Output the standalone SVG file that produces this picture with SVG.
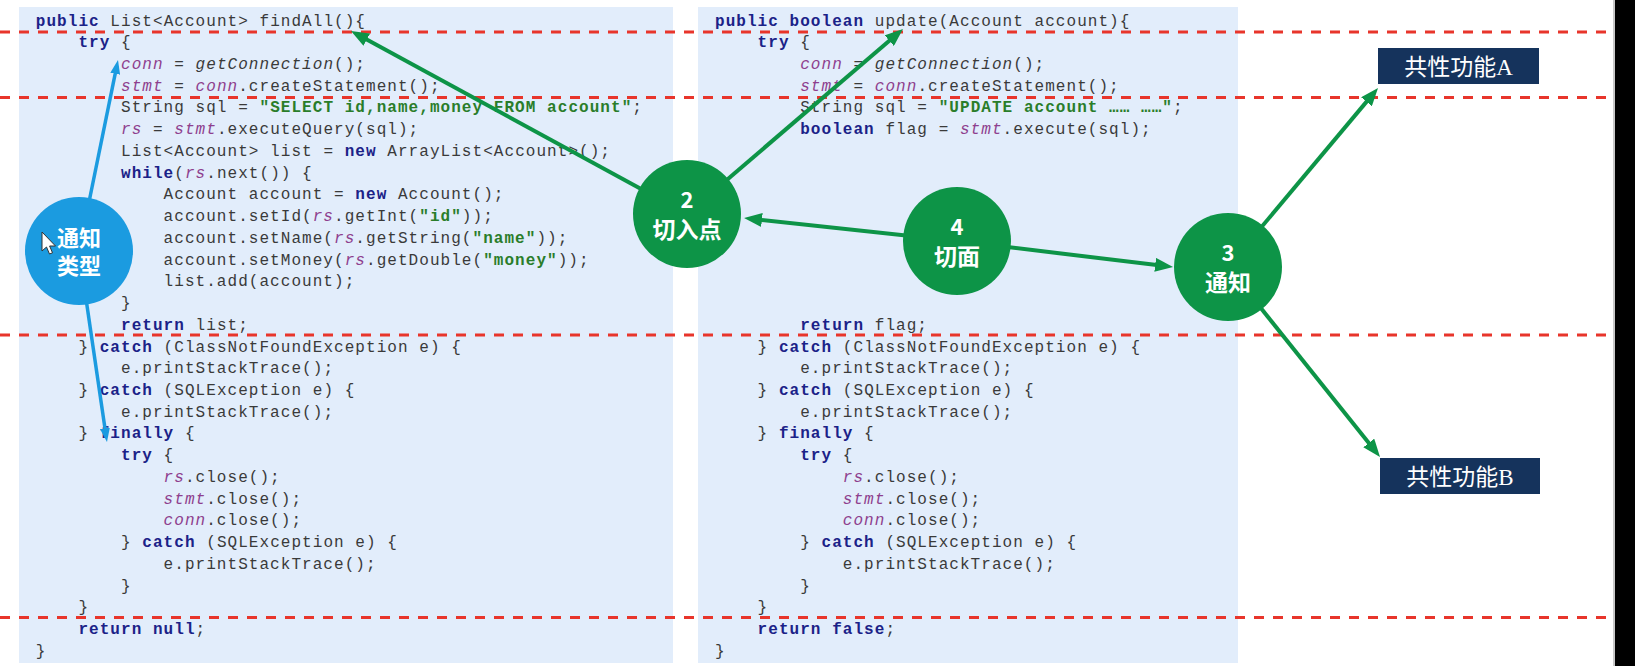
<svg xmlns="http://www.w3.org/2000/svg" width="1635" height="666" viewBox="0 0 1635 666">
<style>
.code{font-family:"Liberation Mono","DejaVu Sans Mono",monospace;font-size:16px;letter-spacing:1.05px;fill:#3a3a3a}
.k{font-weight:bold;fill:#1b2288}
.v{font-style:italic;fill:#8e3f8e}
.i{font-style:italic}
.s{font-weight:bold;fill:#2a7d2a}
.dash{stroke:#e8352b;stroke-width:3;stroke-dasharray:10 9;fill:none}
.g{stroke:#0d9447;stroke-width:4;fill:none}
.b{stroke:#1b9be0;stroke-width:3.5;fill:none}
.gc{fill:#0d9447}
.bc{fill:#1b9be0}
.lbl{font-family:"Noto Sans CJK SC","Noto Sans",sans-serif;font-weight:bold;fill:#fff;text-anchor:middle}
.box{fill:#15335c}
.bt{font-family:"Liberation Serif","Noto Sans CJK SC",sans-serif;font-size:23px;fill:#fff;text-anchor:middle}
</style>
<defs>
<marker id="ga" viewBox="0 0 18 14" markerWidth="18" markerHeight="14" refX="10" refY="7" orient="auto" markerUnits="userSpaceOnUse"><path d="M0,0 L18,7 L0,14 z" fill="#0d9447"/></marker>
<marker id="ba" viewBox="0 0 14 10" markerWidth="14" markerHeight="10" refX="8" refY="5" orient="auto" markerUnits="userSpaceOnUse"><path d="M0,0 L14,5 L0,10 z" fill="#1b9be0"/></marker>
</defs>
<rect width="1635" height="666" fill="#ffffff"/>
<g id="panels">
<rect x="19" y="7" width="654" height="656" fill="#e2edfb"/>
<rect x="698" y="7" width="540" height="656" fill="#e2edfb"/>
<rect x="1613" y="0" width="2" height="666" fill="#c8c8c8"/>
<rect x="1615" y="0" width="20" height="666" fill="#000000"/>
</g>
<g id="code-left" class="code">
<text x="35.8" y="25.5"><tspan class="k">public</tspan> List&lt;Account&gt; findAll(){</text>
<text x="78.4" y="47.2"><tspan class="k">try</tspan> {</text>
<text x="121" y="69"><tspan class="v">conn</tspan> = <tspan class="i">getConnection</tspan>();</text>
<text x="121" y="90.7"><tspan class="v">stmt</tspan> = <tspan class="v">conn</tspan>.createStatement();</text>
<text x="121" y="112.4">String sql = <tspan class="s">"SELECT id,name,money FROM account"</tspan>;</text>
<text x="121" y="134.2"><tspan class="v">rs</tspan> = <tspan class="v">stmt</tspan>.executeQuery(sql);</text>
<text x="121" y="155.9">List&lt;Account&gt; list = <tspan class="k">new</tspan> ArrayList&lt;Account&gt;();</text>
<text x="121" y="177.6"><tspan class="k">while</tspan>(<tspan class="v">rs</tspan>.next()) {</text>
<text x="163.6" y="199.3">Account account = <tspan class="k">new</tspan> Account();</text>
<text x="163.6" y="221.1">account.setId(<tspan class="v">rs</tspan>.getInt(<tspan class="s">"id"</tspan>));</text>
<text x="163.6" y="242.8">account.setName(<tspan class="v">rs</tspan>.getString(<tspan class="s">"name"</tspan>));</text>
<text x="163.6" y="264.5">account.setMoney(<tspan class="v">rs</tspan>.getDouble(<tspan class="s">"money"</tspan>));</text>
<text x="163.6" y="286.3">list.add(account);</text>
<text x="121" y="308">}</text>
<text x="121" y="329.7"><tspan class="k">return</tspan> list;</text>
<text x="78.4" y="351.5">} <tspan class="k">catch</tspan> (ClassNotFoundException e) {</text>
<text x="121" y="373.2">e.printStackTrace();</text>
<text x="78.4" y="394.9">} <tspan class="k">catch</tspan> (SQLException e) {</text>
<text x="121" y="416.6">e.printStackTrace();</text>
<text x="78.4" y="438.4">} <tspan class="k">finally</tspan> {</text>
<text x="121" y="460.1"><tspan class="k">try</tspan> {</text>
<text x="163.6" y="481.8"><tspan class="v">rs</tspan>.close();</text>
<text x="163.6" y="503.6"><tspan class="v">stmt</tspan>.close();</text>
<text x="163.6" y="525.3"><tspan class="v">conn</tspan>.close();</text>
<text x="121" y="547">} <tspan class="k">catch</tspan> (SQLException e) {</text>
<text x="163.6" y="568.7">e.printStackTrace();</text>
<text x="121" y="590.5">}</text>
<text x="78.4" y="612.2">}</text>
<text x="78.4" y="633.9"><tspan class="k">return null</tspan>;</text>
<text x="35.8" y="655.7">}</text>
</g>
<g id="code-right" class="code">
<text x="715" y="25.5"><tspan class="k">public boolean</tspan> update(Account account){</text>
<text x="757.6" y="47.2"><tspan class="k">try</tspan> {</text>
<text x="800.2" y="69"><tspan class="v">conn</tspan> = <tspan class="i">getConnection</tspan>();</text>
<text x="800.2" y="90.7"><tspan class="v">stmt</tspan> = <tspan class="v">conn</tspan>.createStatement();</text>
<text x="800.2" y="112.4">String sql = <tspan class="s">"UPDATE account …… ……"</tspan>;</text>
<text x="800.2" y="134.2"><tspan class="k">boolean</tspan> flag = <tspan class="v">stmt</tspan>.execute(sql);</text>
<text x="800.2" y="329.7"><tspan class="k">return</tspan> flag;</text>
<text x="757.6" y="351.5">} <tspan class="k">catch</tspan> (ClassNotFoundException e) {</text>
<text x="800.2" y="373.2">e.printStackTrace();</text>
<text x="757.6" y="394.9">} <tspan class="k">catch</tspan> (SQLException e) {</text>
<text x="800.2" y="416.6">e.printStackTrace();</text>
<text x="757.6" y="438.4">} <tspan class="k">finally</tspan> {</text>
<text x="800.2" y="460.1"><tspan class="k">try</tspan> {</text>
<text x="842.8" y="481.8"><tspan class="v">rs</tspan>.close();</text>
<text x="842.8" y="503.6"><tspan class="v">stmt</tspan>.close();</text>
<text x="842.8" y="525.3"><tspan class="v">conn</tspan>.close();</text>
<text x="800.2" y="547">} <tspan class="k">catch</tspan> (SQLException e) {</text>
<text x="842.8" y="568.7">e.printStackTrace();</text>
<text x="800.2" y="590.5">}</text>
<text x="757.6" y="612.2">}</text>
<text x="757.6" y="633.9"><tspan class="k">return false</tspan>;</text>
<text x="715" y="655.7">}</text>
</g>
<g id="dashed-lines">
<line class="dash" x1="0" y1="32" x2="1612" y2="32"/>
<line class="dash" x1="0" y1="97.5" x2="1612" y2="97.5"/>
<line class="dash" x1="0" y1="335" x2="1612" y2="335"/>
<line class="dash" x1="0" y1="617.5" x2="1612" y2="617.5"/>
</g>
<g id="connectors">
<line class="g" x1="687" y1="214" x2="358" y2="34.8" marker-end="url(#ga)"/>
<line class="g" x1="687" y1="214" x2="896.9" y2="34.2" marker-end="url(#ga)"/>
<line class="g" x1="957" y1="241" x2="752" y2="218.9" marker-end="url(#ga)"/>
<line class="g" x1="957" y1="241" x2="1165.1" y2="266" marker-end="url(#ga)"/>
<line class="g" x1="1228" y1="267" x2="1372.9" y2="94.1" marker-end="url(#ga)"/>
<line class="g" x1="1228" y1="267" x2="1375" y2="450.8" marker-end="url(#ga)"/>
<line class="b" x1="79" y1="251" x2="116.8" y2="65.9" marker-end="url(#ba)"/>
<line class="b" x1="79" y1="251" x2="106.1" y2="436.1" marker-end="url(#ba)"/>
</g>
<g id="node-advice-type">
<circle class="bc" cx="79" cy="251" r="54"/>
<text class="lbl" font-size="22"><tspan x="79" y="245.5">通知</tspan><tspan x="79" y="273.5">类型</tspan></text>
</g>
<g id="cursor">
<path d="M42,232 L42,251 L46.5,247 L49.5,254 L52.5,252.8 L49.6,246 L55.5,246 Z" fill="#ffffff" stroke="#333" stroke-width="1"/>
</g>
<g id="node-pointcut">
<circle class="gc" cx="687" cy="214" r="54"/>
<text class="lbl" x="687" y="207.5" font-size="22">2</text>
<text class="lbl" x="687" y="237.5" font-size="23">切入点</text>
</g>
<g id="node-aspect">
<circle class="gc" cx="957" cy="241" r="54"/>
<text class="lbl" x="957" y="234.5" font-size="22">4</text>
<text class="lbl" x="957" y="264.5" font-size="23">切面</text>
</g>
<g id="node-advice">
<circle class="gc" cx="1228" cy="267" r="54"/>
<text class="lbl" x="1228" y="260.5" font-size="22">3</text>
<text class="lbl" x="1228" y="290.5" font-size="23">通知</text>
</g>
<g id="node-common-a">
<rect class="box" x="1378" y="48" width="161" height="36"/>
<text class="bt" x="1458.5" y="74.5">共性功能A</text>
</g>
<g id="node-common-b">
<rect class="box" x="1380" y="458" width="160" height="36"/>
<text class="bt" x="1460" y="484.5">共性功能B</text>
</g>
</svg>
